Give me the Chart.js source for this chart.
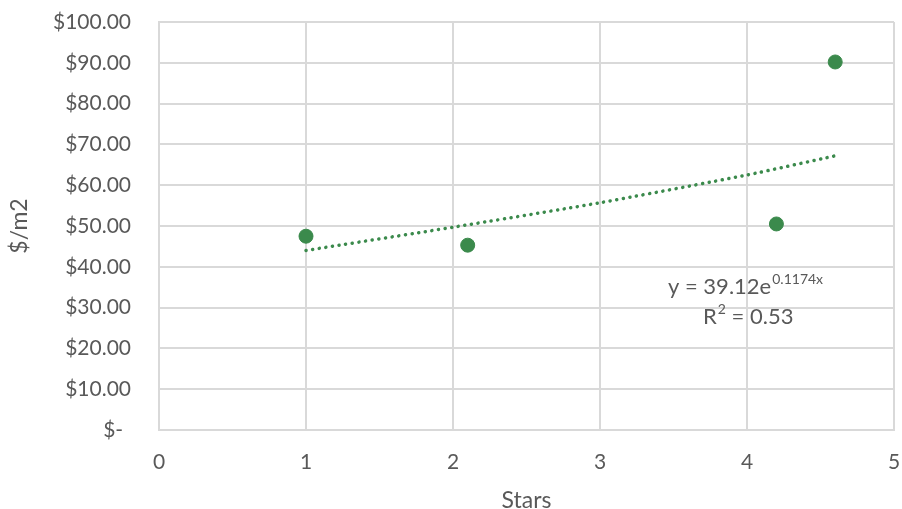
<!DOCTYPE html>
<html>
<head>
<meta charset="utf-8">
<script src="https://cdn.jsdelivr.net/npm/chart.js@4"></script>
<style>
  html, body { margin: 0; padding: 0; background: #fff; }
  #wrap { width: 902px; height: 509px; }
</style>
</head>
<body>
<div id="wrap"><canvas id="chart" width="902" height="509"></canvas></div>
<script>
// data
const starsX = [1, 2.1, 4.2, 4.6];
const priceY = [47.5, 45.3, 50.5, 90.2];
// trendline as it appears in the picture (estimated)
const trendX = [1, 2, 3, 4, 4.6];
const trendY = [44.0, 49.7, 55.7, 62.5, 67.2];
const yTicks = [0, 10, 20, 30, 40, 50, 60, 70, 80, 90, 100];
const xTicks = [0, 1, 2, 3, 4, 5];
const eqText = 'y = 39.12e';
const eqExp = '0.1174x';
const r2Text = ' = 0.53';

const green = '#3b8a4c';
const gray = '#595959';
const gridCol = '#d9d9d9';
const font = 'Lato, "Open Sans", sans-serif';

// --- equation label plugin ---
const eqLabel = {
    id: 'eqLabel',
    afterDatasetsDraw(chart) {
        const ctx = chart.ctx;
        ctx.save();
        ctx.fillStyle = gray;
        ctx.textBaseline = 'alphabetic';
        ctx.font = '22px ' + font;
        let x = 668, y = 294;
        ctx.fillText(eqText, x, y);
        x += ctx.measureText(eqText).width;
        ctx.font = '14px ' + font;
        ctx.fillText(eqExp, x + 1, y - 10);
        // R squared line
        ctx.font = '22px ' + font;
        x = 703; y = 324;
        ctx.fillText('R', x, y);
        x += ctx.measureText('R').width;
        ctx.font = '14px ' + font;
        ctx.fillText('2', x + 1, y - 10);
        x += ctx.measureText('2').width + 1;
        ctx.font = '22px ' + font;
        ctx.fillText(r2Text, x, y);
        ctx.restore();
    }
};

const ctx = document.getElementById('chart').getContext('2d');
new Chart(ctx, {
    type: 'scatter',
    data: {
        datasets: [
            {
                label: 'Trend',
                type: 'line',
                data: trendX.map((x, i) => ({ x: x, y: trendY[i] })),
                borderColor: green,
                borderWidth: 3.5,
                borderDash: [0.1, 6.6],
                borderCapStyle: 'round',
                pointRadius: 0,
                tension: 0.2,
                fill: false,
                order: 2
            },
            {
                label: '$/m2',
                data: starsX.map((x, i) => ({ x: x, y: priceY[i] })),
                backgroundColor: green,
                borderColor: green,
                pointRadius: 7,
                pointHoverRadius: 7,
                order: 1
            }
        ]
    },
    options: {
        responsive: false,
        animation: false,
        layout: { padding: { top: 22, right: 8, left: 0, bottom: 0 } },
        plugins: { legend: { display: false }, tooltip: { enabled: false } },
        scales: {
            x: {
                type: 'linear',
                min: 0,
                max: 5,
                afterBuildTicks: axis => { axis.ticks = xTicks.map(v => ({ value: v })); },
                grid: { color: gridCol, lineWidth: 2, drawTicks: false },
                border: { color: gridCol, width: 2 },
                ticks: { color: gray, font: { size: 21, family: font }, padding: 20 },
                title: { display: true, text: 'Stars', color: gray, font: { size: 23, family: font }, padding: { top: 0, bottom: -5 } },
                afterFit: axis => {
                    axis.height = 79;
                    axis.paddingLeft = 0;
                    axis.paddingRight = 0;
                }
            },
            y: {
                min: 0,
                max: 100,
                afterBuildTicks: axis => { axis.ticks = yTicks.map(v => ({ value: v })); },
                grid: { color: gridCol, lineWidth: 2, drawTicks: false },
                border: { color: gridCol, width: 2 },
                ticks: {
                    color: gray,
                    font: { size: 21, family: font },
                    padding: 28,
                    callback: v => v === 0 ? '$-\u2009\u2009\u2009' : '$' + v.toFixed(2)
                },
                title: { display: true, text: '$/m2', color: gray, font: { size: 23, family: font }, padding: { top: 6, bottom: 0 } },
                afterFit: axis => {
                    axis.width = 159;
                    axis.paddingTop = 0;
                    axis.paddingBottom = 0;
                }
            }
        }
    },
    plugins: [eqLabel]
});
</script>
</body>
</html>
